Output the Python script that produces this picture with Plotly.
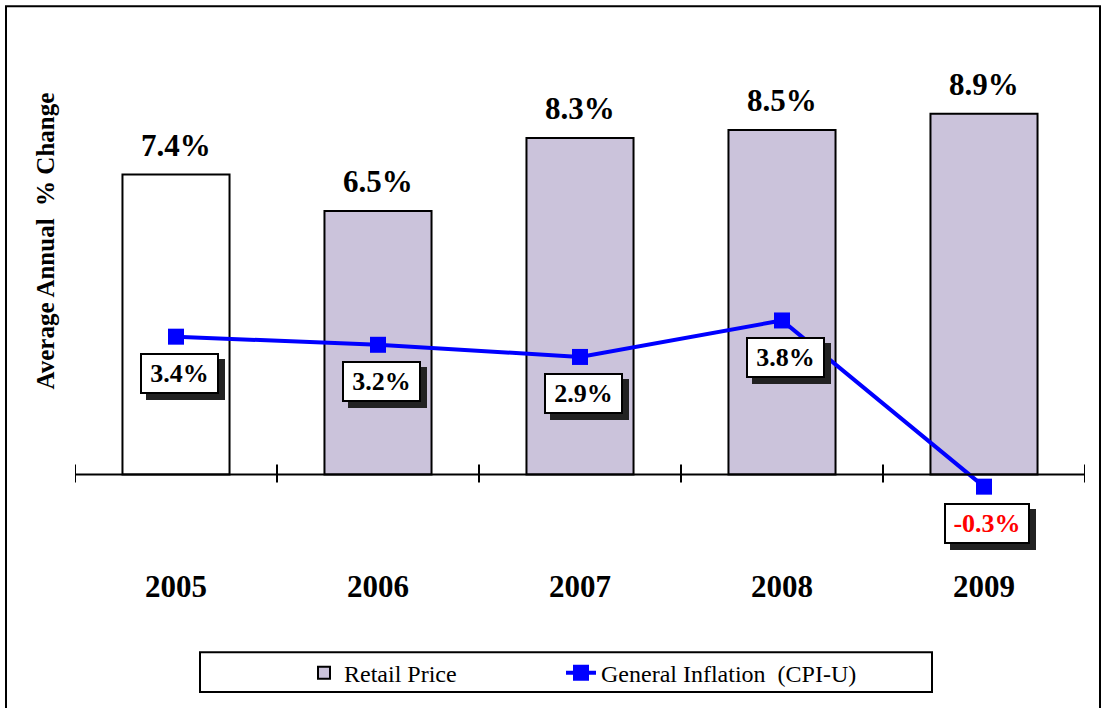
import plotly.graph_objects as go

years = ["2005", "2006", "2007", "2008", "2009"]
retail = [7.4, 6.5, 8.3, 8.5, 8.9]
cpi = [3.4, 3.2, 2.9, 3.8, -0.3]
retail_labels = ["7.4%", "6.5%", "8.3%", "8.5%", "8.9%"]
cpi_labels = ["3.4%", "3.2%", "2.9%", "3.8%", "-0.3%"]

serif = "Liberation Serif, Times New Roman, serif"
lavender = "#CBC3DB"

# plot area is 75..1085 px wide and 42..562 px tall
L, T, W, H = 75, 42, 1010, 520
def px_x(p): return (p - L) / W
def px_y(p): return (T + H - p) / H

idx = list(range(len(years)))

fig = go.Figure()
fig.add_trace(go.Bar(
    x=years[1:], y=retail[1:], name="Retail Price",
    marker=dict(color=lavender, line=dict(color="black", width=2)),
    width=0.53, legend="legend",
))
fig.add_trace(go.Bar(
    x=years[:1], y=retail[:1], name="Retail Price", showlegend=False,
    marker=dict(color="white", line=dict(color="black", width=2)),
    width=0.53,
))
fig.add_trace(go.Scatter(
    x=years, y=cpi, name="General Inflation  (CPI-U)",
    mode="lines+markers",
    line=dict(color="#0000FF", width=4),
    marker=dict(symbol="square", size=16, color="#0000FF"),
    legend="legend2",
))

ann = []
# category axis: annotations use the category index
for i, v, t in zip(idx, retail, retail_labels):
    ann.append(dict(x=i, y=v, text=t, showarrow=False, yanchor="bottom", yshift=10,
                    font=dict(family=serif, size=31, color="black", weight="bold")))
for i, v, t in zip(idx, cpi, cpi_labels):
    col = "red" if v < 0 else "black"
    bw = 41 + 7 * len(t)
    # drop shadow (empty box) first, labelled box on top
    ann.append(dict(x=i, y=v, text=" ", showarrow=False, yshift=-43, xshift=9,
                    width=bw, height=31,
                    bgcolor="#222", bordercolor="#222", borderwidth=2, borderpad=3))
    ann.append(dict(x=i, y=v, text=t, showarrow=False, yshift=-37, xshift=3,
                    width=bw, height=31,
                    font=dict(family=serif, size=26, color=col, weight="bold"),
                    bgcolor="white", bordercolor="black", borderwidth=2, borderpad=3))
ann.append(dict(x=px_x(45), y=px_y(243), xref="paper", yref="paper", text="Average Annual  % Change",
                textangle=-90, showarrow=False, xanchor="center", yanchor="middle",
                font=dict(family=serif, size=25, color="black", weight="bold")))

shapes = [
    dict(type="line", xref="x", yref="y", x0=-0.5, x1=len(years) - 0.5, y0=0, y1=0,
         line=dict(color="black", width=2)),
    dict(type="rect", xref="paper", yref="paper", x0=px_x(6), x1=px_x(1100), y0=px_y(6), y1=px_y(760),
         line=dict(color="black", width=2), layer="below"),
    dict(type="rect", xref="paper", yref="paper", x0=px_x(200), x1=px_x(932), y0=px_y(657), y1=px_y(697),
         line=dict(color="black", width=2), layer="below"),
]
for i in range(len(years) + 1):
    shapes.append(dict(type="line", xref="x", yref="y", x0=i - 0.5, x1=i - 0.5,
                       ysizemode="pixel", yanchor=0, y0=-8, y1=10,
                       line=dict(color="black", width=2)))

legfont = dict(family=serif, size=24, color="black")
fig.update_layout(
    width=1105, height=708,
    margin=dict(l=L, r=1105 - L - W, t=T, b=708 - T - H),
    plot_bgcolor="white", paper_bgcolor="white",
    barmode="overlay",
    showlegend=True,
    legend=dict(orientation="h", x=px_x(304), y=px_y(678), xanchor="left", yanchor="middle",
                bgcolor="rgba(0,0,0,0)", borderwidth=0, font=legfont),
    legend2=dict(orientation="h", x=px_x(561), y=px_y(678), xanchor="left", yanchor="middle",
                 bgcolor="rgba(0,0,0,0)", borderwidth=0, font=legfont),
    annotations=ann,
    shapes=shapes,
    xaxis=dict(type="category", categoryorder="array", categoryarray=years,
               range=[-0.5, len(years) - 0.5], showgrid=False, showline=False, zeroline=False,
               ticks="", ticklabelstandoff=7,
               tickfont=dict(family=serif, size=31, color="black", weight="bold")),
    yaxis=dict(range=[-2.06, 10.67], showgrid=False, showline=False, zeroline=False,
               showticklabels=False, ticks=""),
)

fig.write_html("out.html", config={"displayModeBar": False},
               post_script="document.body.style.margin='0';")
